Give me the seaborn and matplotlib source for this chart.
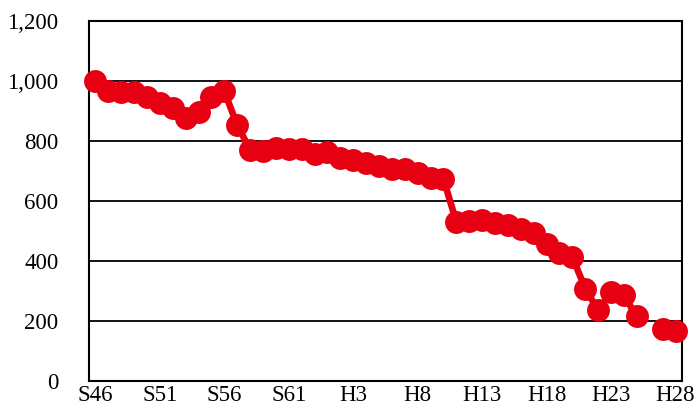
import numpy as np
import pandas as pd
import matplotlib
matplotlib.use("Agg")
import matplotlib.pyplot as plt
import seaborn as sns

# Fiscal years S46 (1971) .. H28 (2016); H26 has no figure
years = ["S46", "S47", "S48", "S49", "S50", "S51", "S52", "S53", "S54", "S55",
         "S56", "S57", "S58", "S59", "S60", "S61", "S62", "S63", "H1", "H2",
         "H3", "H4", "H5", "H6", "H7", "H8", "H9", "H10", "H11", "H12",
         "H13", "H14", "H15", "H16", "H17", "H18", "H19", "H20", "H21", "H22",
         "H23", "H24", "H25", "H26", "H27", "H28"]
values = [1000, 968, 962, 962, 948, 925, 910, 878, 897, 945,
          965, 853, 770, 765, 777, 772, 774, 757, 762, 742,
          738, 725, 718, 708, 705, 692, 675, 673, 530, 532,
          535, 525, 520, 505, 493, 455, 428, 413, 308, 235,
          297, 285, 215, np.nan, 172, 165]
tick_labels = ["S46", "S51", "S56", "S61", "H3", "H8", "H13", "H18", "H23", "H28"]
y_ticks = [0, 200, 400, 600, 800, 1000, 1200]

df = pd.DataFrame({"pos": np.arange(len(years)), "year": years, "value": values})
# consecutive runs without gaps are drawn as separate segments
df["segment"] = df["value"].isna().cumsum()
df = df.dropna()

sns.set_style("white")
plt.rcParams["font.family"] = ["Liberation Serif", "DejaVu Serif"]
plt.rcParams["text.color"] = "black"
plt.rcParams["xtick.color"] = "black"
plt.rcParams["ytick.color"] = "black"

fig = plt.figure(figsize=(6.98, 4.11), dpi=100)
ax = fig.add_axes([0.1275, 0.073, 0.8495, 0.876])

for y in y_ticks[1:-1]:
    ax.axhline(y, color="black", lw=1.3, zorder=1)

sns.lineplot(data=df, x="pos", y="value", units="segment", estimator=None,
             color="#E60012", lw=4.8, marker="o", markersize=16.5,
             markeredgewidth=0, ax=ax, zorder=3, legend=False, clip_on=False)

ax.set_xlim(-0.5, len(years) - 0.5)
ax.set_ylim(0, 1200)
ax.set_yticks(y_ticks)
ax.set_yticklabels([f"{v:,}" for v in y_ticks])
label_pos = [years.index(t) for t in tick_labels]
ax.set_xticks(label_pos)
ax.set_xticklabels(tick_labels)
ax.set_xticks(np.arange(4.5, len(years) - 1, 5), minor=True)
ax.tick_params(axis="x", which="major", length=0, pad=3, labelsize=16.5, labelcolor="black")
ax.tick_params(axis="x", which="minor", direction="in", length=6, width=1.3, color="black")
ax.tick_params(axis="y", length=0, pad=22, labelsize=16.5, labelcolor="black")
ax.set_xlabel("")
ax.set_ylabel("")

for side in ["left", "right", "top", "bottom"]:
    ax.spines[side].set_visible(True)
    ax.spines[side].set_color("black")
    ax.spines[side].set_linewidth(1.5)

fig.savefig("out.png", dpi=100)
